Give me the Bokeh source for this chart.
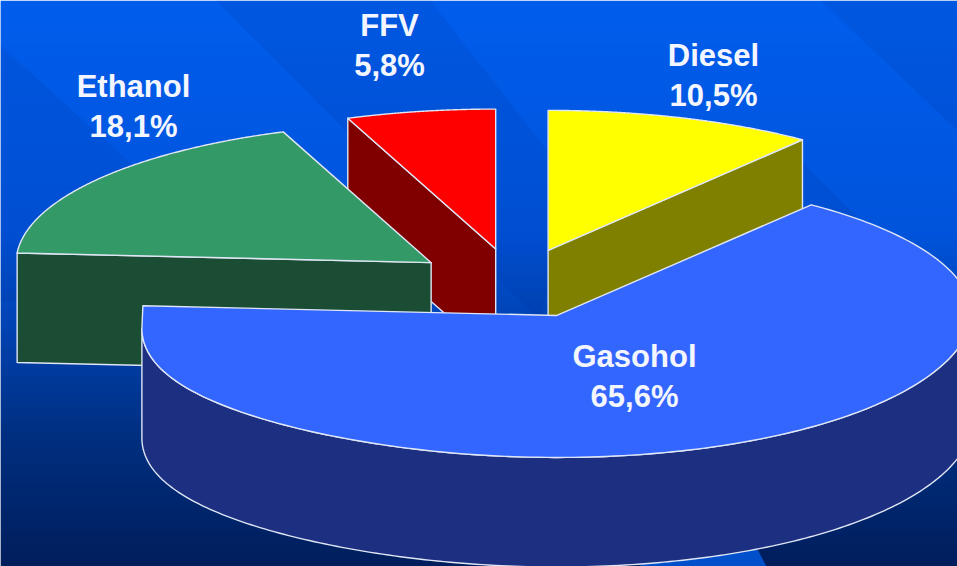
import numpy as np
from bokeh.plotting import figure
from bokeh.embed import file_html
from bokeh.resources import INLINE
from bokeh.core.properties import value

# Data, clockwise from twelve o'clock
categories = ["Diesel", "Gasohol", "Ethanol", "FFV"]
shares = [10.5, 65.6, 18.1, 5.8]

top_colors = ["#ffff00", "#3366ff", "#339966", "#ff0000"]
side_colors = ["#808000", "#1d2f80", "#1a4d33", "#800000"]
draw_order = ["Diesel", "FFV", "Ethanol", "Gasohol"]
label_centres = {"Diesel": (713, 55), "Gasohol": (634, 356), "Ethanol": (133, 86), "FFV": (389, 25)}

# Projection of the tilted pie, in reference pixels
CX, CY, RX, RY, DEPTH, EXPLODE = 514.0, 283.0, 415.0, 140.0, 109.5, 0.25
W, H = 957, 566
EDGE = "#dfe6f5"

p = figure(width=W, height=H, x_range=(0, W), y_range=(H, 0),
           output_backend="svg", toolbar_location=None, min_border=0)
p.axis.visible = False
p.grid.visible = False
p.outline_line_color = None

# Background: vertical gradient, as overlapping strips
rows = np.arange(0, H, 2)
stops_y = [0, 230, 330, 430, 566]
g = np.interp(rows, stops_y, [94, 84, 66, 48, 30]).astype(int)
b = np.interp(rows, stops_y, [236, 220, 176, 130, 92]).astype(int)
strip_colors = [f"#00{gg:02x}{bb:02x}" for gg, bb in zip(g, b)]
p.quad(left=0, right=W, top=rows, bottom=rows + 3, fill_color=strip_colors, line_color=None)

# Background: soft diagonal bands of the slide template
bands_x = [[0, 210, 210, 0], [215, 430, 570, 540, 345], [820, 957, 957], [790, 880, 780]]
bands_y = [[45, 235, 300, 300], [0, 0, 180, 320, 130], [0, 130, 0], [150, 240, 205]]
p.patches(bands_x, bands_y, fill_color="#002a80", fill_alpha=0.10, line_color=None)
# Brighter fleck of the template left visible under the rim
p.patch([640, 640, 755, 766], [566, 548, 545, 566], fill_color="#0050cc", line_color=None)


def rim(angle_deg, ox, oy, name=""):
    t = np.radians(angle_deg)
    x = ox + RX * np.sin(t)
    y = oy - RY * np.cos(t)
    if name == "Gasohol":
        # the near half of the big slice sags a little, most towards its left end
        near = (angle_deg >= 90) & (angle_deg <= 270)
        s4 = np.sin(t) ** 4
        sag = np.where(angle_deg > 180, 13 * s4, -4 * s4) + 2 * np.abs(np.cos(t))
        y = y + np.where(near, sag, 0.0)
    return x, y


def slab(xs, ys, color):
    p.patch(xs, ys, fill_color=color, line_color=EDGE, line_width=1.4, line_join="round")


starts = np.cumsum([0.0] + shares[:-1]) * 3.6
ends = np.cumsum(shares) * 3.6

for name in draw_order:
    i = categories.index(name)
    a0, a1 = starts[i], ends[i]
    mid = np.radians((a0 + a1) / 2)
    ox = CX + EXPLODE * RX * np.sin(mid)
    oy = CY - EXPLODE * RY * np.cos(mid)
    arc = np.r_[np.linspace(a0, min(a1, 270) if name == "Gasohol" else a1, 200), a1]
    ax, ay = rim(arc, ox, oy, name)

    # visible walls: a radial cut facing the viewer, and the front of the rim
    if name in ("Diesel", "Ethanol", "FFV"):
        cut = a1 if name == "Diesel" else a0
        ex, ey = rim(np.array(cut), ox, oy)
        slab([ox, ex, ex, ox], [oy, ey, ey + DEPTH, oy + DEPTH], side_colors[i])
    if name == "Gasohol":
        front = np.linspace(max(a0, 90), min(a1, 270), 200)
        fx, fy = rim(front, ox, oy, name)
        slab(np.r_[fx, fx[::-1]], np.r_[fy, fy[::-1] + DEPTH], side_colors[i])

    slab(np.r_[ox, ax], np.r_[oy, ay], top_colors[i])

# Labels
for name, share in zip(categories, shares):
    lx, ly = label_centres[name]
    p.text([lx, lx], [ly, ly + 39.5], text=[name, f"{share:.1f}".replace(".", ",") + "%"],
           text_font=value("Liberation Sans"), text_font_style="bold", text_font_size="31px",
           text_color="#f4f6ff", text_align="center", text_baseline="middle")

open("out.html", "w").write(file_html(p, INLINE))
